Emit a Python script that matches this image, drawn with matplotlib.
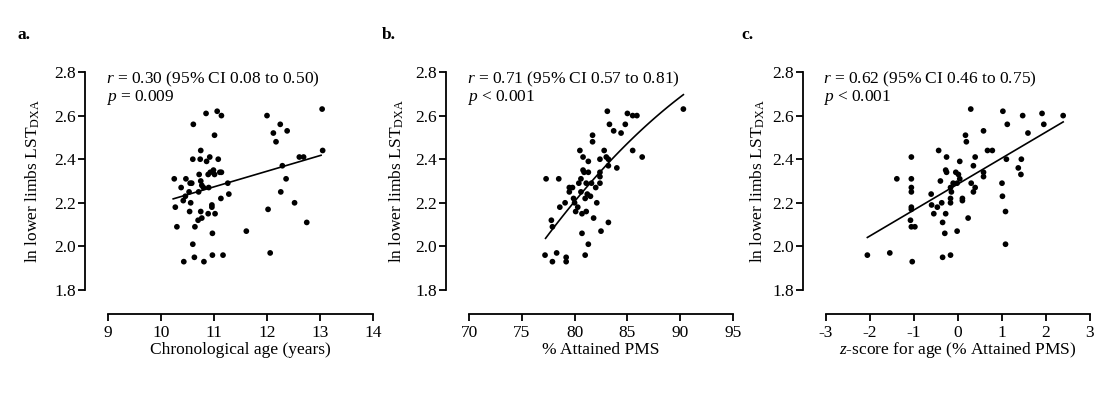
import numpy as np
import matplotlib
matplotlib.use("Agg")
import matplotlib.pyplot as plt

plt.rcParams['font.family'] = ['Liberation Serif', 'DejaVu Serif']
plt.rcParams['mathtext.fontset'] = 'custom'
plt.rcParams['mathtext.rm'] = 'Liberation Serif'
plt.rcParams['mathtext.it'] = 'Liberation Serif:italic'

# ---------------- data ----------------
a_x = [10.25, 10.27, 10.30, 10.38, 10.42, 10.47, 10.46, 10.53, 10.55, 10.56, 10.54, 10.58,
       10.61, 10.60, 10.60, 10.63, 10.64, 10.43, 10.70, 10.71, 10.72, 10.74, 10.75, 10.75,
       10.75, 10.77, 10.77, 10.80, 10.81, 10.85, 10.86, 10.89, 10.89, 10.90, 10.92, 10.93,
       10.96, 10.96, 10.97, 10.97, 10.99, 11.01, 11.01, 11.02, 11.06, 11.08, 11.11, 11.13,
       11.14, 11.14, 11.17, 11.26, 11.28, 11.61, 12.00, 12.02, 12.06, 12.12, 12.17, 12.25,
       12.26, 12.29, 12.36, 12.38, 12.52, 12.61, 12.69, 12.75, 13.04, 13.05]
a_y = [2.31, 2.18, 2.09, 2.27, 2.21, 2.31, 2.23, 2.25, 2.29, 2.20, 2.16, 2.29,
       2.56, 2.40, 2.01, 1.95, 2.09, 1.93, 2.12, 2.25, 2.33, 2.40, 2.44, 2.16,
       2.30, 2.13, 2.28, 2.27, 1.93, 2.61, 2.39, 2.33, 2.15, 2.27, 2.41, 2.34,
       2.19, 2.18, 2.06, 1.96, 2.35, 2.33, 2.51, 2.15, 2.62, 2.40, 2.34, 2.22,
       2.60, 2.34, 1.96, 2.29, 2.24, 2.07, 2.60, 2.17, 1.97, 2.52, 2.48, 2.56,
       2.25, 2.37, 2.31, 2.53, 2.20, 2.41, 2.41, 2.11, 2.63, 2.44]
a_line_x = [10.23, 13.02]
a_line_y = [2.218, 2.418]

b_x = [77.3, 77.2, 77.8, 77.9, 77.9, 78.3, 78.5, 78.6, 79.1, 79.2, 79.2, 79.5, 79.5, 79.8,
       79.9, 80.0, 80.1, 80.3, 80.4, 80.5, 80.6, 80.6, 80.7, 80.7, 80.8, 80.8, 80.9, 81.0,
       81.0, 81.1, 81.1, 81.2, 81.3, 81.3, 81.3, 81.5, 81.6, 81.7, 81.7, 81.8, 82.0, 82.1,
       82.4, 82.4, 82.4, 82.4, 82.5, 82.8, 83.1, 83.0, 83.2, 83.2, 83.2, 83.3, 83.7, 84.0,
       84.4, 84.8, 85.0, 85.5, 85.5, 85.9, 86.4, 90.3]
b_y = [2.31, 1.96, 2.12, 2.09, 1.93, 1.97, 2.31, 2.18, 2.20, 1.95, 1.93, 2.27, 2.25, 2.27,
       2.22, 2.20, 2.16, 2.18, 2.29, 2.44, 2.25, 2.31, 2.06, 2.15, 2.35, 2.41, 2.34, 2.22,
       1.96, 2.16, 2.29, 2.24, 2.39, 2.34, 2.01, 2.23, 2.29, 2.51, 2.48, 2.13, 2.27, 2.20,
       2.40, 2.34, 2.32, 2.29, 2.07, 2.44, 2.62, 2.41, 2.40, 2.37, 2.11, 2.56, 2.53, 2.36,
       2.52, 2.56, 2.61, 2.60, 2.44, 2.60, 2.41, 2.63]
b_line_x = [77.25, 83.3, 90.3]
b_line_y = [2.037, 2.388, 2.696]

c_x = [-2.06, -1.55, -1.39, -1.06, -1.06, -1.06, -1.06, -1.06, -1.06, -1.08, -1.06, -0.98,
       -1.04, -0.61, -0.60, -0.55, -0.47, -0.44, -0.40, -0.37, -0.35, -0.35, -0.30, -0.28,
       -0.28, -0.26, -0.26, -0.17, -0.17, -0.17, -0.15, -0.17, -0.11, -0.05, -0.02, -0.02,
       0.01, 0.04, 0.04, 0.10, 0.10, 0.17, 0.19, 0.23, 0.29, 0.30, 0.35, 0.35, 0.39, 0.39,
       0.58, 0.58, 0.58, 0.67, 0.78, 1.00, 1.01, 1.02, 1.08, 1.08, 1.10, 1.12, 1.37, 1.44,
       1.43, 1.47, 1.59, 1.91, 1.95, 2.39]
c_y = [1.96, 1.97, 2.31, 2.41, 2.31, 2.27, 2.25, 2.18, 2.17, 2.12, 2.09, 2.09,
       1.93, 2.24, 2.19, 2.15, 2.18, 2.44, 2.30, 2.20, 2.11, 1.95, 2.06, 2.15,
       2.35, 2.34, 2.41, 2.27, 2.22, 2.20, 2.25, 1.96, 2.29, 2.34, 2.29, 2.07,
       2.33, 2.39, 2.31, 2.22, 2.21, 2.51, 2.48, 2.13, 2.63, 2.29, 2.37, 2.25, 2.41, 2.27,
       2.53, 2.34, 2.32, 2.44, 2.44, 2.29, 2.23, 2.62, 2.16, 2.01, 2.40, 2.56, 2.36, 2.40,
       2.33, 2.60, 2.52, 2.61, 2.56, 2.60]
c_line_x = [-2.06, 2.39]
c_line_y = [2.041, 2.571]

panel_letters = ['a.', 'b.', 'c.']
x_labels = ['Chronological age (years)', '% Attained PMS',
            '$z$-score for age (% Attained PMS)']
y_label = 'ln lower limbs LST$_{\\mathrm{DXA}}$'
stat_r = ['$r$ = 0.30 (95% CI 0.08 to 0.50)',
          '$r$ = 0.71 (95% CI 0.57 to 0.81)',
          '$r$ = 0.62 (95% CI 0.46 to 0.75)']
stat_p = ['$p$ = 0.009', '$p$ < 0.001', '$p$ < 0.001']
x_lims = [(9, 14), (70, 95), (-3, 3)]
x_ticks = [[9, 10, 11, 12, 13, 14], [70, 75, 80, 85, 90, 95], [-3, -2, -1, 0, 1, 2, 3]]
y_ticks = [1.8, 2.0, 2.2, 2.4, 2.6, 2.8]

# ---------------- figure ----------------
W, H = 1103, 394
fig = plt.figure(figsize=(W / 100, H / 100), dpi=100)
fig.patch.set_facecolor('white')

ax_px = [(108, 265), (469, 264), (826, 264)]   # left, width in px
bottom_px, top_px = 290, 72
ylab_x = [-0.283, -0.273, -0.258]
letter_x = [18, 382, 741]
text_x = [-0.008, -0.008, -0.011]

xs = [a_x, b_x, c_x]
ys = [a_y, b_y, c_y]
lines = [(a_line_x, a_line_y), (b_line_x, b_line_y), (c_line_x, c_line_y)]

FS = 12.5
for i in range(3):
    l, w = ax_px[i]
    ax = fig.add_axes([l / W, (H - bottom_px) / H, w / W, (bottom_px - top_px) / H])
    ax.set_facecolor('none')
    ax.scatter(xs[i], ys[i], s=17, color='black', edgecolors='none', zorder=3, clip_on=False)
    lx, ly = lines[i]
    if len(lx) == 3:
        coef = np.polyfit(lx, ly, 2)
        xx = np.linspace(lx[0], lx[-1], 100)
        ax.plot(xx, np.polyval(coef, xx), color='black', lw=1.2)
    else:
        ax.plot(lx, ly, color='black', lw=1.2)

    ax.set_xlim(*x_lims[i])
    ax.set_ylim(1.8, 2.8)
    ax.set_xticks(x_ticks[i])
    ax.set_yticks(y_ticks)
    ax.set_xticklabels([str(t) for t in x_ticks[i]])
    ax.set_yticklabels(['%.1f' % t for t in y_ticks])
    for s in ['top', 'right']:
        ax.spines[s].set_visible(False)
    ax.spines['left'].set_position(('outward', 23 * 0.72))
    ax.spines['bottom'].set_position(('outward', 24 * 0.72))
    ax.spines['left'].set_bounds(1.8, 2.8)
    ax.spines['bottom'].set_bounds(*x_lims[i])
    for s in ['left', 'bottom']:
        ax.spines[s].set_linewidth(1.3)
    ax.tick_params(axis='both', which='major', length=5, width=1.3,
                   labelsize=FS, pad=1.5, direction='out')
    ax.tick_params(axis='x', pad=3)

    ax.set_xlabel(x_labels[i], fontsize=FS, va='center')
    ax.xaxis.set_label_coords(0.5, -0.275)
    ax.set_ylabel(y_label, fontsize=FS, va='center')
    ax.yaxis.set_label_coords(ylab_x[i], 0.5)

    ax.text(text_x[i], 0.968, stat_r[i], transform=ax.transAxes, fontsize=FS,
            ha='left', va='center')
    ax.text(text_x[i], 0.885, stat_p[i], transform=ax.transAxes, fontsize=FS,
            ha='left', va='center')

    fig.text(letter_x[i] / W, 1 - 35 / H, panel_letters[i], fontsize=FS,
             fontweight='bold', ha='left', va='center')

fig.savefig('out.png', dpi=100, facecolor='white')
